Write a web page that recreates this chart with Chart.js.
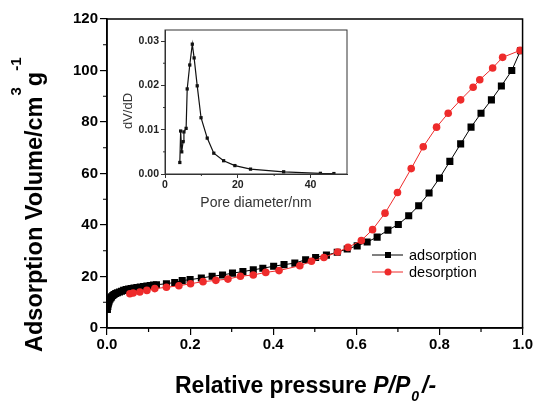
<!DOCTYPE html>
<html>
<head>
<meta charset="utf-8">
<script src="https://cdn.jsdelivr.net/npm/chart.js@4.4.1/dist/chart.umd.min.js"></script>
<style>
  html, body { margin: 0; padding: 0; background: #fff; }
  #wrap { position: relative; width: 534px; height: 404px; }
  #main { position: absolute; left: 0; top: 0; }
  #inset { position: absolute; left: 110px; top: 20px; }
</style>
</head>
<body>
<div id="wrap">
  <canvas id="main" width="534" height="404"></canvas>
  <canvas id="inset" width="250" height="200"></canvas>
</div>
<script>
// isotherm, adsorption branch (P/P0, cm3/g)
const adsP = [0.001, 0.002, 0.003, 0.004, 0.005, 0.007, 0.009, 0.011, 0.014, 0.017, 0.021, 0.025, 0.030, 0.035, 0.040, 0.046, 0.052, 0.058, 0.065, 0.072, 0.080, 0.088, 0.096, 0.104, 0.112,
    0.119, 0.143, 0.163, 0.181, 0.200, 0.227, 0.253, 0.278, 0.302, 0.327, 0.352, 0.375, 0.401, 0.426, 0.452, 0.478, 0.502, 0.528, 0.554, 0.578,
    0.602, 0.626, 0.650, 0.676, 0.701, 0.726, 0.750, 0.775, 0.800, 0.825, 0.851, 0.876, 0.900, 0.925, 0.949, 0.974, 0.995];
const adsV = [7.2, 8.4, 9.3, 10.0, 10.5, 11.2, 11.7, 12.1, 12.6, 13.0, 13.4, 13.7, 14.0, 14.3, 14.6, 14.9, 15.1, 15.3, 15.5, 15.7, 15.9, 16.1, 16.3, 16.5, 16.7,
    16.8, 17.2, 17.7, 18.4, 18.8, 19.4, 20.1, 20.6, 21.3, 21.9, 22.6, 23.2, 24.0, 24.6, 25.2, 26.5, 27.4, 28.3, 29.4, 30.7,
    31.9, 33.4, 35.3, 38.0, 40.2, 43.6, 47.5, 52.4, 58.2, 64.7, 71.5, 78.0, 83.4, 88.6, 94.0, 100.0, 107.7];

// desorption branch
const desP = [0.055, 0.063, 0.079, 0.096, 0.115, 0.143, 0.173, 0.201, 0.231, 0.262, 0.291, 0.321, 0.352, 0.382, 0.414, 0.464, 0.492, 0.522, 0.555, 0.580,
    0.612, 0.639, 0.669, 0.699, 0.732, 0.761, 0.793, 0.821, 0.851, 0.881, 0.897, 0.928, 0.952, 0.994];
const desV = [13.3, 13.6, 14.0, 14.6, 15.3, 15.8, 16.4, 17.2, 18.0, 18.5, 19.0, 20.1, 20.6, 21.6, 22.3, 24.2, 25.9, 27.4, 29.5, 31.3,
    34.0, 38.2, 44.6, 52.6, 61.9, 70.4, 78.0, 83.4, 88.6, 93.5, 96.4, 101.0, 105.1, 107.8];

// inset: pore size distribution
const poreD = [4.07, 4.3, 4.6, 4.97, 5.2, 5.8, 6.1, 6.8, 7.5, 8.0, 8.85, 9.9, 11.6, 13.4, 16.1, 19.2, 23.5, 32.6, 42.7, 46.4];
const poreDV = [0.0026, 0.0097, 0.0050, 0.0073, 0.0095, 0.0103, 0.0192, 0.0246, 0.0293, 0.0262, 0.0199, 0.0127, 0.0081, 0.0047, 0.0030, 0.0019, 0.0011, 0.0005, 0.00015, 0.0001];

const xTicks = [0, 0.2, 0.4, 0.6, 0.8, 1.0];
const yTicks = [0, 20, 40, 60, 80, 100, 120];
const insetXTicks = [0, 20, 40];
const insetYTicks = [0, 0.01, 0.02, 0.03];

const FONT = '"Liberation Sans", Arial, sans-serif';
const RED = '#ee2b2b';

function pts(xs, ys) {
    return xs.map((x, i) => ({ x: x, y: ys[i] }));
}

function fixedTicks(values) {
    return function (scale) {
        scale.ticks = values.map(v => ({ value: v }));
    };
}

// minor ticks, frame, titles and legend for the main chart
const mainDecor = {
    id: 'mainDecor',
    afterDraw(chart) {
        const ctx = chart.ctx;
        const a = chart.chartArea;
        const xs = chart.scales.x, ys = chart.scales.y;
        ctx.save();
        ctx.strokeStyle = '#000';
        ctx.lineWidth = 1.5;
        ctx.strokeRect(a.left, a.top, a.right - a.left, a.bottom - a.top);

        ctx.lineWidth = 1.2;
        ctx.beginPath();
        for (let v = 0.1; v < 1; v += 0.2) {
            const px = xs.getPixelForValue(v);
            ctx.moveTo(px, a.bottom);
            ctx.lineTo(px, a.bottom + 4);
        }
        for (let v = 10; v < 120; v += 20) {
            const py = ys.getPixelForValue(v);
            ctx.moveTo(a.left, py);
            ctx.lineTo(a.left - 4, py);
        }
        ctx.stroke();

        // y title
        ctx.fillStyle = '#000';
        ctx.textBaseline = 'alphabetic';
        ctx.textAlign = 'left';
        ctx.translate(42, 352);
        ctx.rotate(-Math.PI / 2);
        let x = 0;
        ctx.font = 'bold 23.5px ' + FONT;
        ctx.fillText('Adsorption Volume/cm', x, 0);
        x += ctx.measureText('Adsorption Volume/cm').width + 1;
        ctx.font = 'bold 15px ' + FONT;
        ctx.fillText('3', x, -21);
        x += ctx.measureText('3').width + 1;
        ctx.font = 'bold 23.5px ' + FONT;
        ctx.fillText('g', x, 0);
        x += ctx.measureText('g').width + 1;
        ctx.font = 'bold 15px ' + FONT;
        ctx.fillText('-1', x, -21);
        ctx.setTransform(1, 0, 0, 1, 0, 0);

        // x title
        x = 175;
        const base = 393;
        ctx.font = 'bold 23px ' + FONT;
        ctx.fillText('Relative pressure ', x, base);
        x += ctx.measureText('Relative pressure ').width;
        ctx.font = 'italic bold 23px ' + FONT;
        ctx.fillText('P/P', x, base);
        x += ctx.measureText('P/P').width + 1;
        ctx.font = 'italic bold 14px ' + FONT;
        ctx.fillText('0', x, base + 8);
        x += ctx.measureText('0').width + 3;
        ctx.font = 'italic bold 23px ' + FONT;
        ctx.fillText('/-', x, base);

        // legend
        const items = [
            { label: 'adsorption', color: '#000', style: 'rect', y: 255 },
            { label: 'desorption', color: RED, style: 'circle', y: 272 }
        ];
        ctx.font = '14.5px ' + FONT;
        ctx.textBaseline = 'middle';
        items.forEach(it => {
            ctx.strokeStyle = it.color;
            ctx.lineWidth = 1;
            ctx.beginPath();
            ctx.moveTo(372, it.y);
            ctx.lineTo(403, it.y);
            ctx.stroke();
            ctx.fillStyle = it.color;
            if (it.style === 'rect') {
                ctx.fillRect(385, it.y - 3, 6, 6);
            } else {
                ctx.beginPath();
                ctx.arc(388, it.y, 3.5, 0, Math.PI * 2);
                ctx.fill();
            }
            ctx.fillStyle = '#000';
            ctx.fillText(it.label, 409, it.y + 1);
        });
        ctx.restore();
    }
};

new Chart(document.getElementById('main').getContext('2d'), {
    type: 'scatter',
    data: {
        datasets: [
            {
                label: 'desorption',
                data: pts(desP, desV),
                showLine: true,
                borderColor: RED,
                borderWidth: 1,
                pointStyle: 'circle',
                pointRadius: 3.8,
                pointBackgroundColor: RED,
                pointBorderColor: RED,
                pointBorderWidth: 0,
                order: 0
            },
            {
                label: 'adsorption',
                data: pts(adsP, adsV),
                showLine: true,
                borderColor: '#000',
                borderWidth: 1,
                pointStyle: 'rect',
                pointRadius: 5,
                pointBackgroundColor: '#000',
                pointBorderColor: '#000',
                pointBorderWidth: 0,
                order: 1
            }
        ]
    },
    options: {
        responsive: false,
        animation: false,
        devicePixelRatio: 1,
        layout: { padding: { left: 0, top: 19, right: 11, bottom: 0 } },
        plugins: { legend: { display: false }, tooltip: { enabled: false } },
        scales: {
            x: {
                type: 'linear',
                min: 0,
                max: 1,
                afterBuildTicks: fixedTicks(xTicks),
                afterFit: s => { s.height = 76; },
                ticks: {
                    color: '#000',
                    font: { family: FONT, size: 15, weight: 'bold' },
                    padding: 1,
                    maxRotation: 0,
                    callback: v => v.toFixed(1)
                },
                grid: { drawOnChartArea: false, drawTicks: true, tickLength: 7, color: '#000', lineWidth: 1.2 },
                border: { display: true, color: '#000', width: 1.5 }
            },
            y: {
                min: 0,
                max: 120,
                afterBuildTicks: fixedTicks(yTicks),
                afterFit: s => { s.width = 107; },
                ticks: {
                    color: '#000',
                    font: { family: FONT, size: 15, weight: 'bold' },
                    padding: 2
                },
                grid: { drawOnChartArea: false, drawTicks: true, tickLength: 7, color: '#000', lineWidth: 1.2 },
                border: { display: true, color: '#000', width: 1.5 }
            }
        }
    },
    plugins: [mainDecor]
});

// inset chart
const insetDecor = {
    id: 'insetDecor',
    beforeDraw(chart) {
        const a = chart.chartArea;
        const ctx = chart.ctx;
        ctx.save();
        ctx.fillStyle = '#fff';
        ctx.fillRect(a.left, a.top, a.right - a.left, a.bottom - a.top);
        ctx.restore();
    },
    afterDraw(chart) {
        const ctx = chart.ctx;
        const a = chart.chartArea;
        const xs = chart.scales.x, ys = chart.scales.y;
        ctx.save();
        ctx.strokeStyle = '#333';
        ctx.lineWidth = 1;
        ctx.strokeRect(a.left, a.top, a.right - a.left, a.bottom - a.top);
        ctx.beginPath();
        [10, 30].forEach(v => {
            const px = xs.getPixelForValue(v);
            ctx.moveTo(px, a.bottom);
            ctx.lineTo(px, a.bottom + 2);
        });
        [0.005, 0.015, 0.025].forEach(v => {
            const py = ys.getPixelForValue(v);
            ctx.moveTo(a.left, py);
            ctx.lineTo(a.left - 2, py);
        });
        ctx.stroke();

        ctx.fillStyle = '#333';
        ctx.textAlign = 'center';
        ctx.textBaseline = 'middle';
        ctx.font = '14px ' + FONT;
        ctx.fillText('Pore diameter/nm', 146, 183);
        ctx.translate(18, 91);
        ctx.rotate(-Math.PI / 2);
        ctx.font = '13px ' + FONT;
        ctx.fillText('dV/dD', 0, 0);
        ctx.restore();
    }
};

new Chart(document.getElementById('inset').getContext('2d'), {
    type: 'scatter',
    data: {
        datasets: [{
            data: pts(poreD, poreDV),
            showLine: true,
            borderColor: '#111',
            borderWidth: 1.2,
            pointStyle: 'rect',
            pointRadius: 2.3,
            pointBackgroundColor: '#111',
            pointBorderWidth: 0
        }]
    },
    options: {
        responsive: false,
        animation: false,
        devicePixelRatio: 1,
        layout: { padding: { left: 0, top: 10, right: 13, bottom: 0 } },
        plugins: { legend: { display: false }, tooltip: { enabled: false } },
        scales: {
            x: {
                type: 'linear',
                min: 0,
                max: 50,
                afterBuildTicks: fixedTicks(insetXTicks),
                afterFit: s => { s.height = 46; },
                ticks: {
                    color: '#222',
                    font: { family: FONT, size: 10.5, weight: 'bold' },
                    padding: 1,
                    maxRotation: 0
                },
                grid: { drawOnChartArea: false, drawTicks: true, tickLength: 4, color: '#333', lineWidth: 1 },
                border: { display: true, color: '#333', width: 1 }
            },
            y: {
                min: 0,
                max: 0.0325,
                afterBuildTicks: fixedTicks(insetYTicks),
                afterFit: s => { s.width = 55; },
                ticks: {
                    color: '#222',
                    font: { family: FONT, size: 10.5, weight: 'bold' },
                    padding: 2,
                    callback: v => v.toFixed(2)
                },
                grid: { drawOnChartArea: false, drawTicks: true, tickLength: 4, color: '#333', lineWidth: 1 },
                border: { display: true, color: '#333', width: 1 }
            }
        }
    },
    plugins: [insetDecor]
});
</script>
</body>
</html>
